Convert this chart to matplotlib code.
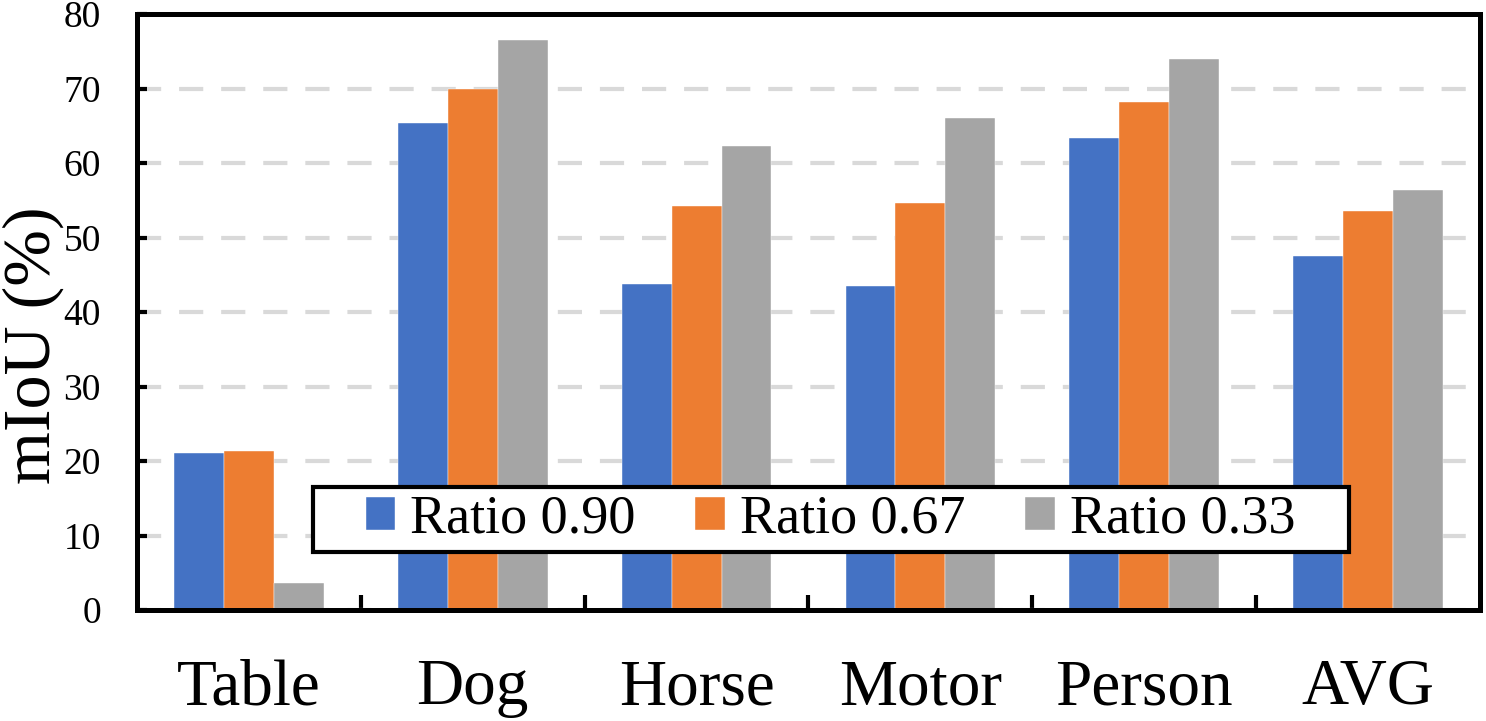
import matplotlib.pyplot as plt
import matplotlib.patches as mpatches
import numpy as np

# values
categories = ['Table', 'Dog', 'Horse', 'Motor', 'Person', 'AVG']
ratio_090 = [21.1, 65.4, 43.7, 43.5, 63.3, 47.5]
ratio_067 = [21.3, 70.0, 54.2, 54.6, 68.2, 53.6]
ratio_033 = [3.6, 76.5, 62.3, 66.0, 74.0, 56.4]
series_labels = ['Ratio 0.90', 'Ratio 0.67', 'Ratio 0.33']
y_ticks = [0, 10, 20, 30, 40, 50, 60, 70, 80]

colors = ['#4472C4', '#ED7D31', '#A5A5A5']
plt.rcParams['font.family'] = ['Liberation Serif', 'DejaVu Serif']

fig = plt.figure(figsize=(14.86, 7.21), dpi=100)
ax = fig.add_axes([137 / 1486, 111 / 721, 1343 / 1486, 596 / 721])

x = np.arange(len(categories))
bar_w = 0.223
for i, (vals, lab) in enumerate(zip([ratio_090, ratio_067, ratio_033], series_labels)):
    ax.bar(x + (i - 1) * bar_w, vals, width=bar_w, color=colors[i],
           edgecolor='white', linewidth=0.3, label=lab, zorder=3)

# --- axes ---
ax.set_xlim(-0.5, len(categories) - 0.5)
ax.set_ylim(0, 80)
ax.set_yticks(y_ticks)
ax.set_yticklabels([str(t) for t in y_ticks], fontsize=27)
ax.tick_params(axis='y', direction='in', length=7, width=3, pad=26)

ax.set_xticks(x)
ax.set_xticklabels(categories, fontsize=47)
ax.tick_params(axis='x', which='major', length=0, pad=35)
ax.set_xticks(x[:-1] + 0.5, minor=True)
ax.tick_params(axis='x', which='minor', direction='in', length=11, width=3)

for s in ax.spines.values():
    s.set_linewidth(3.6)
    s.set_zorder(5)

ax.yaxis.grid(True, color='#D9D9D9', linewidth=3, dashes=(5.8, 4.3), zorder=0)
ax.set_axisbelow(True)

ax.set_ylabel('mIoU (%)', fontsize=49)
ax.yaxis.set_label_coords(-0.054, 0.445)

# --- legend with custom frame ---
frame = mpatches.Rectangle((176 / 1343, 58 / 596), 1036 / 1343, 65 / 596,
                           transform=ax.transAxes, facecolor='white',
                           edgecolor='black', linewidth=3, zorder=6)
ax.add_patch(frame)
leg = ax.legend(loc='center', bbox_to_anchor=(0.5165, 0.152), ncol=3, frameon=False,
                fontsize=39, handlelength=0.55, handleheight=0.55,
                handletextpad=0.28, columnspacing=1.1, borderpad=0.0)
leg.set_zorder(7)

fig.savefig('out.png', dpi=100)
